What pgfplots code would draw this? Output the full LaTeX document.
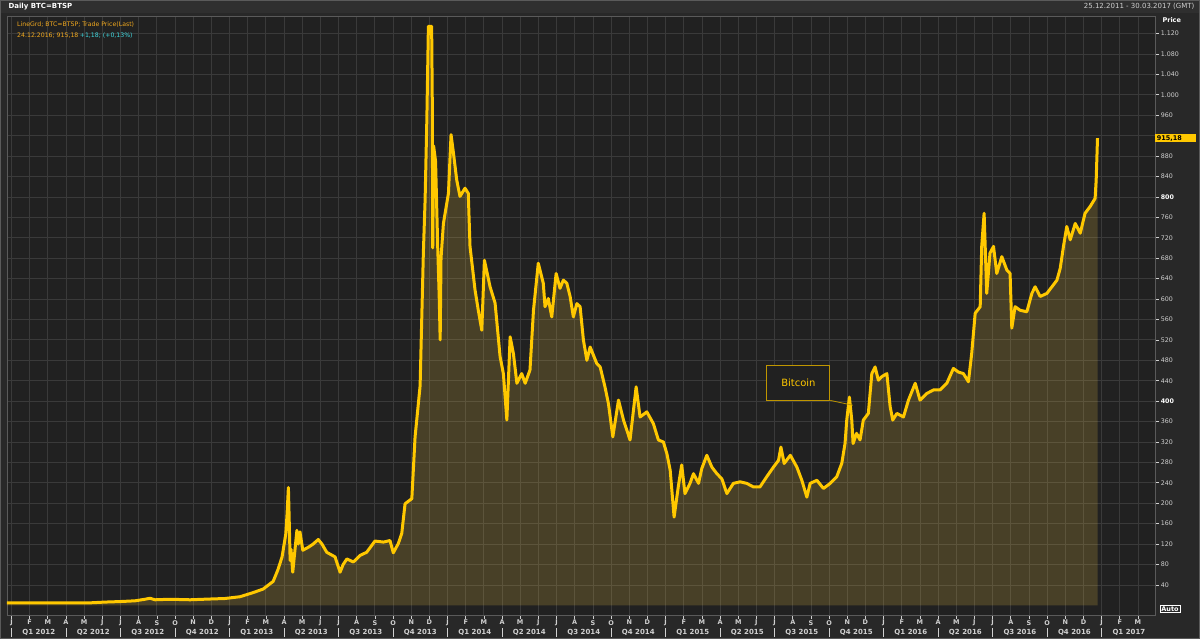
\documentclass[border=0pt]{standalone}
\usepackage{pgfplots}
\pgfplotsset{compat=1.18}
\usepackage{pgfplotstable}
\usepackage{fontspec}
\setmainfont{DejaVu Sans}
\definecolor{bg}{HTML}{282828}
\definecolor{hdr}{HTML}{2F2F2F}
\definecolor{plotbg}{HTML}{212121}
\definecolor{gridc}{HTML}{3A3A3A}
\definecolor{framec}{HTML}{5A5A5A}
\definecolor{btc}{HTML}{FFC800}
\definecolor{fillc}{HTML}{E8C040}
\definecolor{legor}{HTML}{F0A81E}
\definecolor{cyanl}{HTML}{3FD8E0}
\definecolor{lbl}{HTML}{D0D0D0}

\pgfplotstableread{
t p
2011.979 5
2012.085 5
2012.222 5
2012.360 5
2012.429 6.5
2012.498 7.5
2012.567 9
2012.612 12
2012.635 14
2012.658 11
2012.727 12
2012.819 11
2012.911 12.5
2012.979 13.5
2013.048 17
2013.108 25
2013.154 32
2013.200 47
2013.222 70
2013.241 95
2013.258 140
2013.264 180
2013.270 231
2013.273 180
2013.278 88
2013.282 110
2013.290 65
2013.309 147
2013.315 120
2013.323 144
2013.336 108
2013.362 114
2013.383 120
2013.407 129
2013.424 120
2013.446 104
2013.484 95
2013.507 65
2013.521 80
2013.538 91
2013.568 85
2013.599 98
2013.629 104
2013.667 126
2013.706 124
2013.736 127
2013.751 103
2013.774 121
2013.790 141
2013.805 199
2013.836 209
2013.851 330
2013.874 430
2013.889 690
2013.897 794
2013.905 951
2013.912 1134
2013.927 1134
2013.930 980
2013.932 700
2013.936 900
2013.945 870
2013.955 700
2013.962 600
2013.966 520
2013.970 680
2013.981 748
2014.004 807
2014.016 922
2014.027 886
2014.042 833
2014.057 801
2014.080 817
2014.095 807
2014.103 703
2014.126 618
2014.141 578
2014.157 539
2014.169 676
2014.195 624
2014.218 592
2014.241 487
2014.256 454
2014.272 363
2014.287 526
2014.302 493
2014.318 435
2014.340 454
2014.356 435
2014.378 461
2014.394 578
2014.416 670
2014.439 631
2014.447 585
2014.462 601
2014.478 565
2014.498 650
2014.516 621
2014.531 637
2014.547 631
2014.562 605
2014.577 565
2014.593 591
2014.608 585
2014.623 520
2014.639 480
2014.654 506
2014.684 474
2014.700 467
2014.722 428
2014.738 395
2014.758 330
2014.784 402
2014.807 363
2014.837 324
2014.865 428
2014.883 369
2014.914 379
2014.944 356
2014.967 324
2014.990 320
2015.006 297
2015.021 265
2015.039 173
2015.059 235
2015.074 275
2015.089 219
2015.112 239
2015.128 258
2015.151 239
2015.166 268
2015.189 294
2015.212 271
2015.235 258
2015.258 248
2015.281 219
2015.311 239
2015.342 242
2015.372 239
2015.403 232
2015.433 232
2015.464 252
2015.495 271
2015.518 284
2015.529 310
2015.544 278
2015.572 294
2015.602 271
2015.625 245
2015.648 212
2015.663 239
2015.694 245
2015.724 229
2015.755 239
2015.785 252
2015.808 278
2015.823 317
2015.831 363
2015.843 408
2015.854 363
2015.860 317
2015.876 337
2015.892 324
2015.907 363
2015.930 376
2015.946 454
2015.961 467
2015.976 441
2015.992 448
2016.015 454
2016.030 389
2016.042 363
2016.061 376
2016.091 369
2016.114 402
2016.145 435
2016.167 402
2016.198 415
2016.229 422
2016.259 422
2016.290 435
2016.320 464
2016.343 457
2016.366 454
2016.389 438
2016.404 493
2016.420 572
2016.443 585
2016.450 703
2016.461 768
2016.473 611
2016.488 690
2016.504 703
2016.519 650
2016.542 683
2016.565 657
2016.580 650
2016.588 543
2016.603 585
2016.626 578
2016.657 575
2016.680 611
2016.695 624
2016.718 605
2016.749 611
2016.772 624
2016.795 637
2016.810 660
2016.825 703
2016.840 742
2016.856 716
2016.879 748
2016.902 729
2016.924 768
2016.947 781
2016.970 797
2016.975 833
2016.981 915.18
}\btcdata

\begin{document}
\begin{tikzpicture}
\fill[bg] (0pt,0pt) rectangle (1200pt,639pt);
\fill[hdr] (0pt,626pt) rectangle (1200pt,639pt);
\path[use as bounding box] (0pt,0pt) rectangle (1200pt,639pt);
\draw[framec, line width=0.8pt] (0.4pt,0.4pt) rectangle (1199.6pt,638.6pt);
\begin{axis}[
  at={(7pt,24pt)}, anchor=south west,
  scale only axis, width=1148pt, height=599pt,
  xmin=-0.248, xmax=62.94, ymin=-18.8, ymax=1154.3,
  axis background/.style={fill=plotbg},
  axis line style={draw=framec, line width=0.8pt},
  xtick={0,...,62},
  xticklabels={J,F,M,A,M,J,J,A,S,O,N,D,J,F,M,A,M,J,J,A,S,O,N,D,J,F,M,A,M,J,J,A,S,O,N,D,J,F,M,A,M,J,J,A,S,O,N,D,J,F,M,A,M,J,J,A,S,O,N,D,J,F,M},
  ytick={40,80,...,1120},
  yticklabels={40,80,120,160,200,240,280,320,360,\textbf{\color{white}400},440,480,520,560,600,640,680,720,760,\textbf{\color{white}800},840,880,{},960,1.000,1.040,1.080,1.120},
  grid=major, major grid style={gridc, line width=0.8pt},
  ytick pos=right, yticklabel pos=right,
  xtick pos=bottom,
  tick align=outside, major tick length=4pt,
  tick style={lbl, line width=0.7pt},
  xticklabel style={font=\fontsize{6.5}{7}\selectfont\bfseries, text=lbl, inner sep=1pt},
  yticklabel style={font=\fontsize{6.3}{7}\selectfont, text=lbl, anchor=west, inner sep=1.5pt},
  extra x ticks={1.5,4.5,...,61.5},
  extra x tick labels={Q1 2012,Q2 2012,Q3 2012,Q4 2012,Q1 2013,Q2 2013,Q3 2013,Q4 2013,Q1 2014,Q2 2014,Q3 2014,Q4 2014,Q1 2015,Q2 2015,Q3 2015,Q4 2015,Q1 2016,Q2 2016,Q3 2016,Q4 2016,Q1 2017},
  extra x tick style={grid=none, major tick length=0pt, xticklabel style={yshift=-13pt, font=\fontsize{7}{8}\selectfont\bfseries, text=lbl}},
  clip=false,
]
\addplot[draw=none, fill=fillc, fill opacity=0.2] table[x expr={(\thisrow{t}-2012)*12}, y=p]{\btcdata} \closedcycle;
\addplot[btc, line width=3pt, line join=round] table[x expr={(\thisrow{t}-2012)*12}, y=p]{\btcdata};
\pgfplotsinvokeforeach{0,3,...,60}{
  \draw[lbl, line width=0.9pt] ([yshift=-13pt]axis cs:#1,-18.8) -- ([yshift=-22pt]axis cs:#1,-18.8);
}
\node[draw=btc!75!black, fill=plotbg, text=btc, font=\fontsize{10}{12}\selectfont, minimum width=63pt, minimum height=35pt, line width=0.8pt] (bc) at (axis cs:43.31,436.5) {Bitcoin};
\draw[btc!75!black, line width=0.8pt] (bc.south east) -- (axis cs:46.3,392);
\node[anchor=west, fill=btc, text=black, font=\fontsize{6.5}{7}\selectfont\bfseries, inner sep=1.5pt, align=left, text width=38pt] at (axis cs:62.94,915.18) {915,18};
\end{axis}
\node[anchor=west, text=white, font=\fontsize{7}{8}\selectfont\bfseries] at (5pt,632.5pt) {Daily BTC=BTSP};
\node[anchor=east, text=lbl, font=\fontsize{7}{8}\selectfont] at (1198pt,632.5pt) {25.12.2011 - 30.03.2017 (GMT)};
\node[anchor=west, text=white, font=\fontsize{6.5}{8}\selectfont\bfseries] at (1159pt,619pt) {Price};
\node[anchor=west, text=legor, font=\fontsize{6.2}{8}\selectfont, inner sep=0pt] at (17pt,614pt) {LineGrd; BTC=BTSP; Trade Price(Last)};
\node[anchor=west, text=legor, font=\fontsize{6.2}{8}\selectfont, inner sep=0pt] (l2) at (17pt,603.5pt) {24.12.2016; 915,18};
\node[anchor=west, text=cyanl, font=\fontsize{6.2}{8}\selectfont, inner sep=0pt] at ([xshift=1pt]l2.east) {+1,18; (+0,13\%)};
\node[anchor=west, draw=white, text=white, font=\fontsize{6.5}{7}\selectfont\bfseries, inner sep=1.2pt] at (1160pt,30pt) {Auto};
\end{tikzpicture}
\end{document}
